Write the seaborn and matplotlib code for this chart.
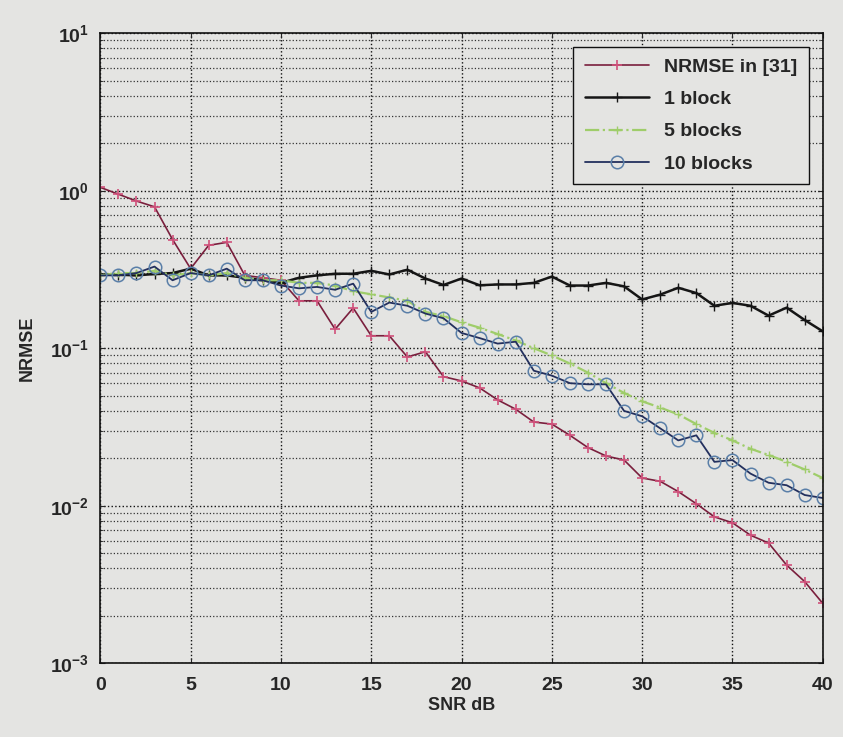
import numpy as np
import pandas as pd
import seaborn as sns
import matplotlib.pyplot as plt
from matplotlib.ticker import LogLocator, NullFormatter

# SNR axis (dB), one point per dB
snr = list(range(0, 41))

# NRMSE in [31]
nrmse_ref = [1.05, 0.95, 0.86, 0.79, 0.49, 0.32, 0.45, 0.47, 0.29, 0.28,
             0.27, 0.20, 0.20, 0.132, 0.18, 0.12, 0.12, 0.088, 0.095, 0.066,
             0.062, 0.056, 0.047, 0.041, 0.034, 0.033, 0.028, 0.0234, 0.0207, 0.0195,
             0.015, 0.0143, 0.0123, 0.0103, 0.0085, 0.0078, 0.0065, 0.0058, 0.0042, 0.0033,
             0.0024]

# 1 block
nrmse_1 = [0.293, 0.293, 0.29, 0.296, 0.30, 0.32, 0.29, 0.29, 0.28, 0.27,
           0.26, 0.28, 0.29, 0.297, 0.297, 0.31, 0.294, 0.315, 0.277, 0.252,
           0.277, 0.251, 0.254, 0.254, 0.26, 0.285, 0.25, 0.25, 0.26, 0.247,
           0.204, 0.219, 0.242, 0.224, 0.186, 0.194, 0.186, 0.161, 0.181, 0.151,
           0.128]

# 5 blocks
nrmse_5 = [0.29, 0.30, 0.30, 0.31, 0.29, 0.30, 0.29, 0.30, 0.28, 0.27,
           0.27, 0.26, 0.26, 0.25, 0.23, 0.22, 0.21, 0.20, 0.17, 0.16,
           0.146, 0.135, 0.123, 0.112, 0.10, 0.09, 0.08, 0.07, 0.06, 0.052,
           0.046, 0.042, 0.038, 0.033, 0.029, 0.026, 0.023, 0.021, 0.019, 0.017,
           0.015]

# 10 blocks
nrmse_10 = [0.29, 0.29, 0.30, 0.33, 0.27, 0.30, 0.29, 0.32, 0.27, 0.27,
            0.25, 0.24, 0.245, 0.235, 0.257, 0.17, 0.195, 0.186, 0.166, 0.155,
            0.125, 0.116, 0.107, 0.11, 0.072, 0.067, 0.06, 0.059, 0.059, 0.04,
            0.037, 0.031, 0.026, 0.028, 0.019, 0.0195, 0.016, 0.014, 0.0135, 0.0117,
            0.0112]

labels = ['NRMSE in [31]', '1 block', '5 blocks', '10 blocks']

df = pd.DataFrame({'SNR': snr, labels[0]: nrmse_ref, labels[1]: nrmse_1,
                   labels[2]: nrmse_5, labels[3]: nrmse_10})

bg = '#e4e4e2'
sns.set_style('ticks')
plt.rcParams['font.family'] = ['Liberation Sans', 'DejaVu Sans']
plt.rcParams['font.weight'] = 'bold'
plt.rcParams['axes.labelweight'] = 'bold'
plt.rcParams['mathtext.default'] = 'bf'

fig = plt.figure(figsize=(8.43, 7.37), dpi=100, facecolor=bg)
ax = fig.add_axes([0.119, 0.10, 0.857, 0.855])
ax.set_facecolor(bg)

# line styles roughly like the MATLAB figure
sns.lineplot(data=df, x='SNR', y=labels[0], ax=ax, color='#7a1f3d', lw=1.2,
             marker='+', markersize=7, markeredgecolor='#d0507a', mew=1.2, label=labels[0])
sns.lineplot(data=df, x='SNR', y=labels[1], ax=ax, color='#151515', lw=1.8,
             marker='+', markersize=7, markeredgecolor='#151515', mew=1.0, label=labels[1])
sns.lineplot(data=df, x='SNR', y=labels[2], ax=ax, color='#9fcd6a', lw=1.6, linestyle='-.',
             marker='+', markersize=6, markeredgecolor='#9fcd6a', mew=1.0, label=labels[2])
sns.lineplot(data=df, x='SNR', y=labels[3], ax=ax, color='#23305e', lw=1.3,
             marker='o', markersize=9, markerfacecolor='none', markeredgecolor='#5a7fa8',
             mew=1.1, label=labels[3])

ax.set_yscale('log')
ax.set_xlim(0, 40)
ax.set_ylim(1e-3, 1e1)
ax.set_xticks(range(0, 41, 5))
ax.yaxis.set_major_locator(LogLocator(base=10, numticks=10))
ax.yaxis.set_minor_locator(LogLocator(base=10, subs=np.arange(2, 10), numticks=20))
ax.yaxis.set_minor_formatter(NullFormatter())

ax.grid(which='major', axis='both', linestyle=':', color='#111111', lw=1.0)
ax.grid(which='minor', axis='y', linestyle=':', color='#333333', lw=0.9)
ax.tick_params(which='both', direction='in', top=True, right=True, labelsize=14)
ax.tick_params(axis='x', pad=10)
ax.tick_params(axis='y', pad=8)
for s in ax.spines.values():
    s.set_color('#111111')
    s.set_linewidth(1.2)

ax.set_xlabel('SNR dB', fontsize=13, labelpad=2)
ax.set_ylabel('NRMSE', fontsize=13, labelpad=10)

leg = ax.legend(loc='upper right', fontsize=14, handlelength=3.3, frameon=True,
                fancybox=False, edgecolor='#111111', borderaxespad=0.7, labelspacing=0.75,
                borderpad=0.6)
leg.get_frame().set_facecolor(bg)
leg.get_frame().set_alpha(1)
leg.get_frame().set_linewidth(1.0)

fig.savefig('out.png', dpi=100, facecolor=bg)
